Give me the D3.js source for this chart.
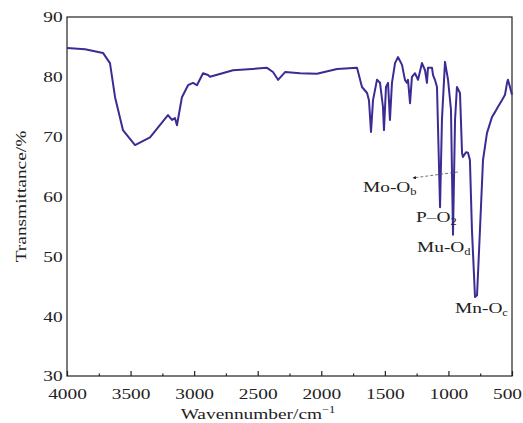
<!DOCTYPE html>
<html>
<head>
<meta charset="utf-8">
<script src="https://cdn.jsdelivr.net/npm/d3@7"></script>
<style>
  body { margin: 0; background: #fff; }
  svg { display: block; }
  text { font-family: "Liberation Serif", "Times New Roman", serif; fill: #222; }
</style>
</head>
<body>
<svg id="chart" width="523" height="423"></svg>
<script>
// spectrum
const wavenumber = [4000, 3858, 3717, 3662, 3622, 3560, 3465, 3347, 3206, 3174, 3151, 3135, 3096, 3048, 3009, 2978,
    2930, 2891, 2875, 2694, 2427, 2380, 2340, 2285, 2167, 2034, 1876, 1719, 1680, 1640, 1625, 1609, 1593, 1562,
    1538, 1515, 1507, 1491, 1475, 1460, 1444, 1420, 1397, 1365, 1342, 1326, 1318, 1302, 1287, 1263, 1239, 1208,
    1184, 1169, 1161, 1129, 1121, 1106, 1090, 1066, 1051, 1027, 1003, 980, 964, 948, 933, 909, 893, 886, 862,
    846, 831, 815, 791, 775, 752, 728, 697, 657, 634, 610, 579, 555, 539, 532, 516, 500];
const transmittance = [84.8, 84.6, 84.0, 82.3, 76.6, 71.1, 68.6, 69.9, 73.6, 72.8, 73.1, 71.9, 76.6, 78.6, 79.0, 78.6,
    80.6, 80.3, 80.0, 81.1, 81.5, 80.8, 79.5, 80.8, 80.6, 80.5, 81.3, 81.5, 78.3, 77.3, 76.1, 70.8, 76.1, 79.5,
    79.0, 75.0, 71.1, 78.3, 79.0, 72.8, 79.0, 82.3, 83.3, 82.0, 79.5, 79.0, 79.5, 75.6, 80.0, 80.6, 79.5, 82.3,
    81.1, 79.0, 81.5, 81.5, 80.3, 79.5, 78.3, 58.2, 72.8, 82.5, 79.5, 74.5, 53.6, 72.8, 78.3, 77.3, 67.3, 66.6, 67.4,
    67.3, 66.1, 54.4, 43.2, 43.5, 54.4, 66.1, 70.6, 73.3, 74.1, 75.0, 76.1, 77.0, 79.0, 79.5, 78.3, 77.0];

const xTicks = [4000, 3500, 3000, 2500, 2000, 1500, 1000, 500];
const xMinorTicks = [3750, 3250, 2750, 2250, 1750, 1250, 750];
const yTicks = [30, 40, 50, 60, 70, 80, 90];

// band labels: [main, subscript, wavenumber, transmittance]
const bandLabels = [
    ["Mo-O", "b", 1672, 60.75],
    ["P–O", "2", 1255, 55.7],
    ["Mu-O", "d", 1247, 50.7],
    ["Mn-O", "c", 948, 40.5]
];
// leader line for Mo-Ob: from curve to text
const leader = [[925, 64.1], [1279, 63.1]];

const stretch = 1.25;
const fontSize = 15.5;

let svg = d3.select("#chart");

let x = d3.scaleLinear().domain([4000, 500]).range([67, 512]);
let y = d3.scaleLinear().domain([30, 90]).range([376, 17]);

svg.append("defs").append("marker")
    .attr("id", "arrow")
    .attr("viewBox", "0 0 10 10")
    .attr("refX", 9).attr("refY", 5)
    .attr("markerWidth", 5).attr("markerHeight", 4)
    .attr("orient", "auto")
    .append("path")
    .attr("d", "M0,0L10,5L0,10Z")
    .attr("fill", "#111");

// frame
svg.append("rect")
    .attr("x", x(4000)).attr("y", y(90))
    .attr("width", x(500) - x(4000)).attr("height", y(30) - y(90))
    .attr("fill", "none").attr("stroke", "#222").attr("stroke-width", 1.2);

// x axis, ticks pointing inward
let xAxis = svg.append("g")
    .attr("transform", "translate(0," + y(30) + ")")
    .call(d3.axisBottom(x).tickValues(xTicks).tickSizeInner(-5).tickSizeOuter(0).tickPadding(12).tickFormat(d3.format("d")));
xAxis.select(".domain").remove();
xAxis.selectAll("line").attr("stroke", "#222").attr("stroke-width", 1.2);
xAxis.selectAll("text")
    .attr("font-size", fontSize).attr("fill", "#222")
    .attr("font-family", "Liberation Serif")
    .attr("transform", "scale(" + stretch + ",1)");
// last label is pulled in so it stays on the page
xAxis.selectAll("text").filter(d => d == 500).attr("x", -4);

let xMinor = svg.append("g")
    .attr("transform", "translate(0," + y(30) + ")")
    .call(d3.axisBottom(x).tickValues(xMinorTicks).tickSizeInner(-2.5).tickSizeOuter(0).tickFormat(""));
xMinor.select(".domain").remove();
xMinor.selectAll("line").attr("stroke", "#222").attr("stroke-width", 1.2);

// y axis, labels only
let yAxis = svg.append("g")
    .attr("transform", "translate(" + x(4000) + ",0)")
    .call(d3.axisLeft(y).tickValues(yTicks).tickSize(0).tickPadding(3.5));
yAxis.select(".domain").remove();
yAxis.selectAll("text")
    .attr("font-size", fontSize).attr("fill", "#222")
    .attr("font-family", "Liberation Serif")
    .attr("transform", "scale(" + stretch + ",1)");

// axis titles
let xTitle = svg.append("text")
    .attr("transform", "translate(" + 258 + ",419) scale(" + stretch + ",1)")
    .attr("text-anchor", "middle")
    .attr("font-size", fontSize);
xTitle.append("tspan").text("Wavennumber/cm");
xTitle.append("tspan").attr("font-size", 10).attr("dy", -6).text("−1");

svg.append("text")
    .attr("transform", "translate(26," + ((y(30) + y(90)) / 2) + ") rotate(-90) scale(" + stretch + ",1)")
    .attr("text-anchor", "middle")
    .attr("font-size", fontSize)
    .text("Transmittance/%");

// spectrum
let points = wavenumber.map((w, i) => [w, transmittance[i]]);
let line = d3.line().x(d => x(d[0])).y(d => y(d[1]));

svg.append("path")
    .datum(points)
    .attr("d", line)
    .attr("fill", "none")
    .attr("stroke", "#3d2b94")
    .attr("stroke-width", 2)
    .attr("stroke-linejoin", "round");

// leader line for Mo-Ob
svg.append("line")
    .attr("x1", x(leader[0][0])).attr("y1", y(leader[0][1]))
    .attr("x2", x(leader[1][0])).attr("y2", y(leader[1][1]))
    .attr("stroke", "#555").attr("stroke-width", 0.8)
    .attr("stroke-dasharray", "3,2")
    .attr("marker-end", "url(#arrow)");

// band labels
bandLabels.forEach(function(b){
    let t = svg.append("text")
        .attr("transform", "translate(" + x(b[2]) + "," + y(b[3]) + ") scale(" + stretch + ",1)")
        .attr("font-size", fontSize);
    t.append("tspan").text(b[0]);
    t.append("tspan").attr("font-size", 10).attr("dy", 3).text(b[1]);
});
</script>
</body>
</html>
